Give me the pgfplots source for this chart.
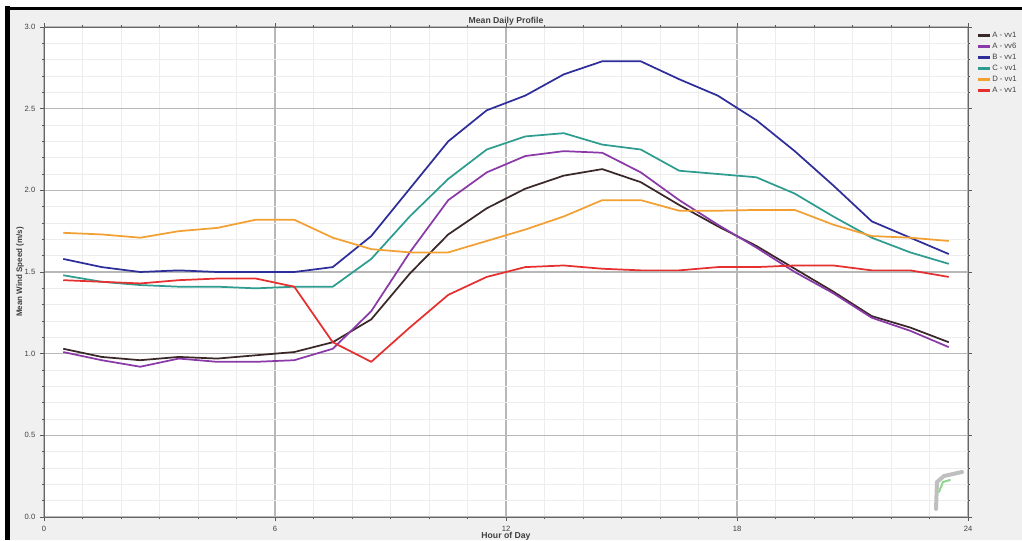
\documentclass[border=0pt]{standalone}
\usepackage{fontspec}
\setmainfont{Liberation Sans}
\usepackage{pgfplots}
\pgfplotsset{compat=1.18}
\definecolor{panel}{HTML}{F0F0F0}
\definecolor{cblk}{HTML}{3A2828}
\definecolor{cpur}{HTML}{8A3AA8}
\definecolor{cblu}{HTML}{2E2E9A}
\definecolor{ctea}{HTML}{2E9C8E}
\definecolor{cora}{HTML}{F3A033}
\definecolor{cred}{HTML}{E5302F}
\definecolor{txt}{HTML}{404040}
\begin{document}
\begin{tikzpicture}[x=0.75pt,y=0.75pt]
\useasboundingbox (0,0) rectangle (1022,540);
\fill[white] (0,0) rectangle (1022,540);
\fill[panel] (7,0) rectangle (1022,532);
\draw[black,line width=3.75pt] (7.5,0) -- (7.5,533.5);
\draw[black,line width=2.25pt] (5.6,531.5) -- (1022,531.5);
\begin{axis}[
  at={(33pt,17.25pt)}, anchor=south west,
  scale only axis, width=693pt, height=367.5pt,
  xmin=0, xmax=24, ymin=0, ymax=3,
  xtick={0,6,12,18,24}, ytick={0,0.5,1,1.5,2,2.5,3},
  minor x tick num=5, minor y tick num=4,
  yticklabel style={/pgf/number format/.cd,fixed,fixed zerofill,precision=1},
  /pgf/number format/assume math mode=true,
  tick align=outside, major tick length=3pt, minor tick length=1.5pt,
  tick style={color=gray!70!black, line width=0.6pt},
  tick label style={font=\fontsize{5.7}{6}\selectfont, text=txt},
  grid=both,
  major grid style={color=black!28, line width=0.9pt},
  minor grid style={color=black!7, line width=0.6pt},
  axis line style={color=gray!80!black, line width=0.7pt},
  axis background/.style={fill=white},
  every axis title shift=0pt,
  title={Mean Daily Profile},
  title style={at={(axis description cs:0.5,1.011)}, anchor=center, font=\bfseries\fontsize{6.5}{7}\selectfont, text=txt},
  xlabel={Hour of Day},
  every axis x label/.style={at={(axis description cs:0.5,-0.04)}, anchor=center, font=\bfseries\fontsize{6.5}{7}\selectfont, text=txt},
  ylabel={Mean Wind Speed (m/s)},
  every axis y label/.style={at={(axis description cs:-0.026,0.5)}, rotate=90, anchor=center, font=\bfseries\fontsize{6}{7}\selectfont, text=txt},
  legend style={at={(1,1)}, anchor=north west, xshift=6pt, yshift=-2.5pt, draw=none, fill=none,
    font=\fontsize{5.8}{6}\selectfont, text=txt, inner sep=0pt,
    nodes={inner sep=1pt, text height=4pt, text depth=1pt}, row sep=1.25pt},
  legend cell align=left,
  legend image code/.code={\draw[#1, line width=2pt] (0pt,0pt) -- (9pt,0pt);},
  every axis plot/.append style={line width=1.3pt, line join=round, mark=none},
]
\addplot[cblk] coordinates {(0.5,1.03)(1.5,0.98)(2.5,0.96)(3.5,0.98)(4.5,0.97)(5.5,0.99)(6.5,1.01)(7.5,1.07)(8.5,1.21)(9.5,1.49)(10.5,1.73)(11.5,1.89)(12.5,2.01)(13.5,2.09)(14.5,2.13)(15.5,2.05)(16.5,1.91)(17.5,1.78)(18.5,1.66)(19.5,1.52)(20.5,1.38)(21.5,1.23)(22.5,1.16)(23.5,1.07)};
\addlegendentry{A - vv1}
\addplot[cpur] coordinates {(0.5,1.01)(1.5,0.96)(2.5,0.92)(3.5,0.97)(4.5,0.95)(5.5,0.95)(6.5,0.96)(7.5,1.03)(8.5,1.26)(9.5,1.62)(10.5,1.94)(11.5,2.11)(12.5,2.21)(13.5,2.24)(14.5,2.23)(15.5,2.11)(16.5,1.94)(17.5,1.79)(18.5,1.65)(19.5,1.50)(20.5,1.37)(21.5,1.22)(22.5,1.14)(23.5,1.04)};
\addlegendentry{A - vv6}
\addplot[cblu] coordinates {(0.5,1.58)(1.5,1.53)(2.5,1.50)(3.5,1.51)(4.5,1.50)(5.5,1.50)(6.5,1.50)(7.5,1.53)(8.5,1.72)(9.5,2.01)(10.5,2.30)(11.5,2.49)(12.5,2.58)(13.5,2.71)(14.5,2.79)(15.5,2.79)(16.5,2.68)(17.5,2.58)(18.5,2.43)(19.5,2.24)(20.5,2.03)(21.5,1.81)(22.5,1.71)(23.5,1.61)};
\addlegendentry{B - vv1}
\addplot[ctea] coordinates {(0.5,1.48)(1.5,1.44)(2.5,1.42)(3.5,1.41)(4.5,1.41)(5.5,1.40)(6.5,1.41)(7.5,1.41)(8.5,1.58)(9.5,1.84)(10.5,2.07)(11.5,2.25)(12.5,2.33)(13.5,2.35)(14.5,2.28)(15.5,2.25)(16.5,2.12)(17.5,2.10)(18.5,2.08)(19.5,1.98)(20.5,1.84)(21.5,1.71)(22.5,1.62)(23.5,1.55)};
\addlegendentry{C - vv1}
\addplot[cora] coordinates {(0.5,1.74)(1.5,1.73)(2.5,1.71)(3.5,1.75)(4.5,1.77)(5.5,1.82)(6.5,1.82)(7.5,1.71)(8.5,1.64)(9.5,1.62)(10.5,1.62)(11.5,1.69)(12.5,1.76)(13.5,1.84)(14.5,1.94)(15.5,1.94)(16.5,1.875)(17.5,1.875)(18.5,1.88)(19.5,1.88)(20.5,1.79)(21.5,1.72)(22.5,1.71)(23.5,1.69)};
\addlegendentry{D - vv1}
\addplot[cred] coordinates {(0.5,1.45)(1.5,1.44)(2.5,1.43)(3.5,1.45)(4.5,1.46)(5.5,1.46)(6.5,1.41)(7.5,1.07)(8.5,0.95)(9.5,1.16)(10.5,1.36)(11.5,1.47)(12.5,1.53)(13.5,1.54)(14.5,1.52)(15.5,1.51)(16.5,1.51)(17.5,1.53)(18.5,1.53)(19.5,1.54)(20.5,1.54)(21.5,1.51)(22.5,1.51)(23.5,1.47)};
\addlegendentry{A - vv1}
\end{axis}
% faint logo watermark
\draw[black!25, line width=3pt, line join=round, line cap=round] (936,31) -- (937,58) -- (944,64) -- (962,68);
\draw[green!45!gray!60, line width=1.5pt, line cap=round] (939,48) -- (943,58) -- (950,60);
\end{tikzpicture}
\end{document}
